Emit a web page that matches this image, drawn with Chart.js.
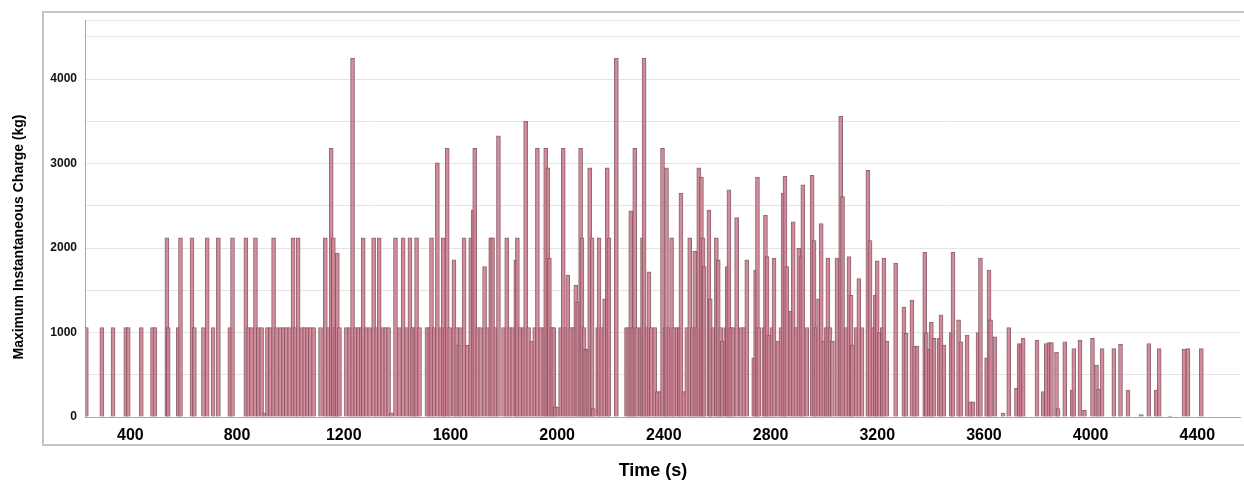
<!DOCTYPE html>
<html>
<head>
<meta charset="utf-8">
<script src="https://cdn.jsdelivr.net/npm/chart.js@4.4.1/dist/chart.umd.min.js"></script>
<style>
  html, body { margin: 0; padding: 0; background: #fff; }
  #wrap { width: 1244px; height: 481px; }
</style>
</head>
<body>
<div id="wrap"><canvas id="chargeChart"></canvas></div>
<script>
// time of each blast (s) and its maximum instantaneous charge (kg)
var times = [
    235, 293, 335, 383, 392, 441, 483, 492, 537, 542, 580, 588, 631, 640, 674, 688, 710, 730, 773, 783, 833,
    843, 854, 869, 880, 892, 903, 914, 925, 937, 948, 963, 974, 985, 997, 1010, 1019, 1029, 1042, 1053, 1064,
    1075, 1087, 1113, 1131, 1143, 1153, 1161, 1169, 1176, 1184, 1210, 1222, 1233, 1244, 1255, 1265, 1273, 1285,
    1297, 1312, 1323, 1333, 1346, 1357, 1368, 1379, 1394, 1409, 1423, 1436, 1448, 1458,
    1466, 1473, 1484, 1512, 1522, 1529, 1539, 1551, 1563, 1573, 1580, 1588, 1597, 1613, 1623, 1631, 1638, 1651,
    1663, 1676, 1685, 1691, 1702, 1713, 1728, 1739, 1751, 1758, 1770, 1780, 1799, 1811, 1822, 1833, 1845, 1851,
    1861, 1873, 1882, 1893, 1905, 1916, 1926, 1938, 1950, 1957, 1965, 1971, 1980, 1987, 1993, 2002, 2013, 2023,
    2032, 2040, 2051, 2062, 2070,
    2077, 2088, 2093, 2101, 2107, 2115, 2122, 2131, 2135, 2152, 2157, 2167, 2178, 2188, 2194, 2222, 2260, 2268,
    2276, 2283, 2291, 2298, 2313, 2320, 2326, 2336, 2344, 2353, 2366, 2375, 2385, 2395, 2404, 2410, 2419, 2429,
    2437, 2449, 2458, 2464, 2475, 2486, 2497, 2507, 2516, 2523, 2531, 2541, 2547, 2551, 2569, 2574, 2584, 2597,
    2604, 2613, 2619, 2632, 2638, 2644, 2651, 2659, 2673,
    2689, 2700, 2711, 2737, 2744, 2751, 2756, 2775, 2781, 2787, 2794, 2805, 2813, 2828, 2839, 2847, 2854, 2861,
    2876, 2885, 2895, 2906, 2914, 2921, 2936, 2956, 2963, 2970, 2980, 2990, 2999, 3008, 3015, 3023, 3032, 3049,
    3063, 3070, 3083, 3094, 3102, 3107, 3121, 3131, 3143, 3165, 3173, 3184, 3193, 3200, 3208, 3219, 3225, 3236,
    3269, 3300,
    3308, 3330, 3340, 3349, 3378, 3384, 3396, 3403, 3413, 3432, 3439, 3450, 3477, 3484, 3505, 3514, 3537, 3548,
    3559, 3578, 3587, 3610, 3619, 3625, 3641, 3672, 3693, 3722, 3732, 3739, 3747, 3799, 3822, 3834, 3844, 3853,
    3872, 3878, 3903,
    3931, 3937, 3960, 3977, 4007, 4022, 4030, 4043, 4087, 4112, 4140, 4190, 4218, 4246, 4257, 4298, 4350, 4365, 4415
];
var charge = [
    1060, 1060, 1060, 1060, 1060, 1060, 1060, 1060, 2120, 1060, 1060, 2120, 2120, 1060, 1060, 2120, 1060, 2120, 1060, 2120, 2120,
    1060, 1060, 2120, 1060, 1060, 50, 1060, 1060, 2120, 1060, 1060, 1060, 1060, 1060, 2120, 1060, 2120, 1060, 1060, 1060,
    1060, 1060, 1060, 2120, 1060, 3180, 2120, 1060, 1940, 1060, 1060, 1060, 4250, 1060, 1060, 1060, 2120, 1060,
    1060, 2120, 1060, 2120, 1060, 1060, 1060, 50, 2120, 1060, 2120, 1060, 2120, 1060,
    1060, 2120, 1060, 1060, 1060, 2120, 1060, 3010, 1060, 2120, 1060, 3180, 1060, 1860, 1060, 850, 1060, 2120,
    850, 2120, 2450, 3180, 1060, 1060, 1780, 1060, 2120, 2120, 1060, 3330, 1060, 2120, 1060, 1060, 1860, 2120,
    1060, 1060, 3500, 1060, 900, 1060, 3180, 1060, 1060, 3180, 2950, 1880, 1060, 1060, 120, 120, 1060, 3180,
    1060, 1680, 1060, 1060, 1560,
    1360, 3180, 2120, 1060, 800, 800, 2950, 2120, 100, 1060, 2120, 1060, 1400, 2950, 2120, 4250, 1060, 1060,
    2440, 1060, 3180, 1060, 1060, 2120, 4250, 1060, 1720, 1060, 1060, 300, 300, 3180, 1060, 2950, 1060, 2120,
    1060, 1060, 1060, 2650, 300, 1060, 2120, 1060, 1960, 1060, 2950, 2840, 2120, 1780, 2450, 1400, 1060, 2120,
    1860, 1060, 900, 1060, 1780, 2690, 1060, 1060, 2360,
    1060, 1060, 1860, 700, 1740, 2840, 1060, 1060, 2390, 1900, 970, 1060, 1880, 900, 1060, 2650, 2850, 1780,
    1250, 2310, 1060, 2000, 1900, 2750, 1060, 2860, 2090, 1060, 1400, 2290, 900, 1060, 1880, 1060, 900, 1880,
    3560, 2610, 1060, 1900, 1440, 850, 1060, 1640, 1060, 2920, 2090, 1060, 1440, 1850, 1000, 1060, 1880, 900,
    1820, 1300,
    990, 1385, 840, 840, 1950, 1000, 800, 1120, 930, 930, 1210, 850, 1000, 1950, 1150, 890, 970, 180,
    180, 1000, 1880, 700, 1740, 1150, 950, 45, 1060, 340, 870, 850, 930, 910, 300, 870, 880, 880,
    770, 100, 890,
    320, 810, 910, 80, 930, 615, 330, 810, 810, 860, 320, 30, 870, 320, 810, 10, 800, 810, 810
];

// axis ticks: x labels every 400 s, y gridlines every 500 kg, labels every 1000 kg
var xTicks = [400, 800, 1200, 1600, 2000, 2400, 2800, 3200, 3600, 4000, 4400];
var yTicks = [0, 500, 1000, 1500, 2000, 2500, 3000, 3500, 4000, 4500, 4700];
var yLabels = [0, 1000, 2000, 3000, 4000];

var frame = {
    id: 'frame',
    beforeDraw: function(chart) {
        var ctx = chart.ctx;
        ctx.save();
        ctx.fillStyle = '#fff';
        ctx.fillRect(0, 0, chart.width, chart.height);
        ctx.strokeStyle = '#c4c4c4';
        ctx.lineWidth = 2;
        ctx.strokeRect(43, 12, chart.width + 10, 433);
        ctx.restore();
    },
    afterDraw: function(chart) {
        var ctx = chart.ctx;
        ctx.save();
        ctx.fillStyle = '#000';
        ctx.textAlign = 'center';
        ctx.textBaseline = 'middle';
        ctx.font = 'bold 18px "Liberation Sans", Arial, sans-serif';
        ctx.fillText('Time (s)', 653, 471);
        ctx.translate(19, 237);
        ctx.rotate(-Math.PI / 2);
        ctx.font = 'bold 14px "Liberation Sans", Arial, sans-serif';
        ctx.fillText('Maximum Instantaneous Charge (kg)', 0, 0);
        ctx.restore();
    }
};

var points = times.map(function(t, i) {
    return { x: t, y: charge[i] };
});

var ctx = document.getElementById('chargeChart').getContext('2d');
var chargeChart = new Chart(ctx, {
    type: 'bar',
    data: {
        datasets: [{
            label: 'Maximum Instantaneous Charge (kg)',
            data: points,
            backgroundColor: 'rgba(208, 132, 149, 0.9)',
            borderColor: 'rgba(128, 80, 90, 0.85)',
            borderWidth: { left: 1, right: 1, top: 1, bottom: 0 },
            borderSkipped: false,
            barThickness: 4
        }]
    },
    options: {
        responsive: true,
        maintainAspectRatio: false,
        animation: false,
        layout: { padding: { left: 0, right: 4, top: 20, bottom: 0 } },
        plugins: {
            legend: { display: false },
            tooltip: { enabled: false }
        },
        scales: {
            x: {
                type: 'linear',
                min: 230,
                max: 4560,
                offset: false,
                afterFit: function(scale) { scale.height = 64; },
                afterBuildTicks: function(scale) {
                    scale.ticks = xTicks.map(function(v) { return { value: v }; });
                },
                grid: { display: false },
                border: { display: true, color: '#a8a8a8', width: 1 },
                ticks: {
                    autoSkip: false,
                    maxRotation: 0,
                    padding: 1,
                    color: '#000',
                    font: { family: '"Liberation Sans", Arial, sans-serif', size: 16, weight: 'bold' },
                    callback: function(v) { return String(v); }
                }
            },
            y: {
                min: 0,
                max: 4700,
                afterFit: function(scale) { scale.width = 85; },
                afterBuildTicks: function(scale) {
                    scale.ticks = yTicks.map(function(v) { return { value: v }; });
                },
                grid: { color: '#e4e4e4', lineWidth: 1, drawTicks: false },
                border: { display: true, color: '#a8a8a8', width: 1 },
                ticks: {
                    autoSkip: false,
                    padding: 8,
                    color: '#111',
                    font: { family: '"Liberation Sans", Arial, sans-serif', size: 12, weight: 'bold' },
                    callback: function(v) { return yLabels.indexOf(v) >= 0 ? String(v) : ''; }
                }
            }
        }
    },
    plugins: [frame]
});
</script>
</body>
</html>
